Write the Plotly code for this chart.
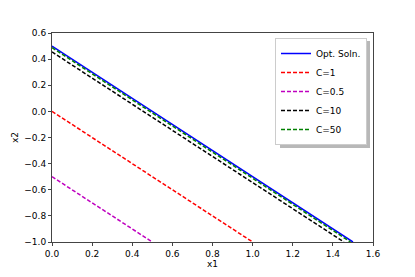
import plotly.graph_objects as go

# Data
opt_x = [0.0, 1.5]
opt_y = [0.5, -1.0]
c1_x = [0.0, 1.0]
c1_y = [0.0, -1.0]
c05_x = [0.0, 0.5]
c05_y = [-0.5, -1.0]
c10_x = [0.0, 1.455]
c10_y = [0.455, -1.0]
c50_x = [0.0, 1.488]
c50_y = [0.488, -1.0]

x_ticks = [0.0, 0.2, 0.4, 0.6, 0.8, 1.0, 1.2, 1.4, 1.6]
y_ticks = [-1.0, -0.8, -0.6, -0.4, -0.2, 0.0, 0.2, 0.4, 0.6]

series = [
    ("Opt. Soln.", opt_x, opt_y, "#0000ff", "solid"),
    ("C=1", c1_x, c1_y, "#ff0000", "4px,2px"),
    ("C=0.5", c05_x, c05_y, "#bf00bf", "4px,2px"),
    ("C=10", c10_x, c10_y, "#000000", "4px,2px"),
    ("C=50", c50_x, c50_y, "#008000", "4px,2px"),
]

fig = go.Figure()
for name, xs, ys, col, dash in series:
    fig.add_trace(go.Scatter(x=xs, y=ys, mode="lines", name=name,
                             line=dict(color=col, width=1.5, dash=dash)))

font = dict(family="DejaVu Sans", size=9, color="#000000")
axis_common = dict(showgrid=False, zeroline=False, ticks="outside", ticklen=3,
                   tickwidth=1, tickcolor="#444", showline=True, linecolor="#444",
                   linewidth=1, mirror=True, tickfont=font, automargin=False)

# plot area in screen px (page body adds an 8px offset)
PL, PR, PT, PB = 52, 373, 33, 242
W, H = 407, 269

def px_x(v):
    return (v - PL) / (PR - PL)

def px_y(v):
    return (PB - v) / (PB - PT)

# legend drop shadow (legend box approx 277..367 x 38..145 px)
fig.add_shape(type="rect", xref="paper", yref="paper", layer="above",
              x0=px_x(280), x1=px_x(370), y0=px_y(148), y1=px_y(41),
              fillcolor="#888888", opacity=0.6, line=dict(width=0))

fig.update_layout(
    width=W, height=H,
    margin=dict(l=PL - 8, r=8 + W - PR, t=PT - 8, b=8 + H - PB),
    paper_bgcolor="white", plot_bgcolor="white",
    font=font,
    showlegend=True,
    legend=dict(x=px_x(367), y=px_y(38), xanchor="right", yanchor="top",
                bgcolor="white", bordercolor="#cccccc", borderwidth=1,
                font=font, tracegroupgap=0, itemwidth=30),
    xaxis=dict(range=[0, 1.6], tickvals=x_ticks,
               ticktext=[f"{v:.1f}" for v in x_ticks],
               title=dict(text="x1", font=font, standoff=2), **axis_common),
    yaxis=dict(range=[-1.0, 0.6], tickvals=y_ticks,
               ticktext=[f"{v:.1f}".replace("-", "\u2212") for v in y_ticks],
               title=dict(text="x2", font=font, standoff=4), **axis_common),
)

fig.write_html("out.html")
